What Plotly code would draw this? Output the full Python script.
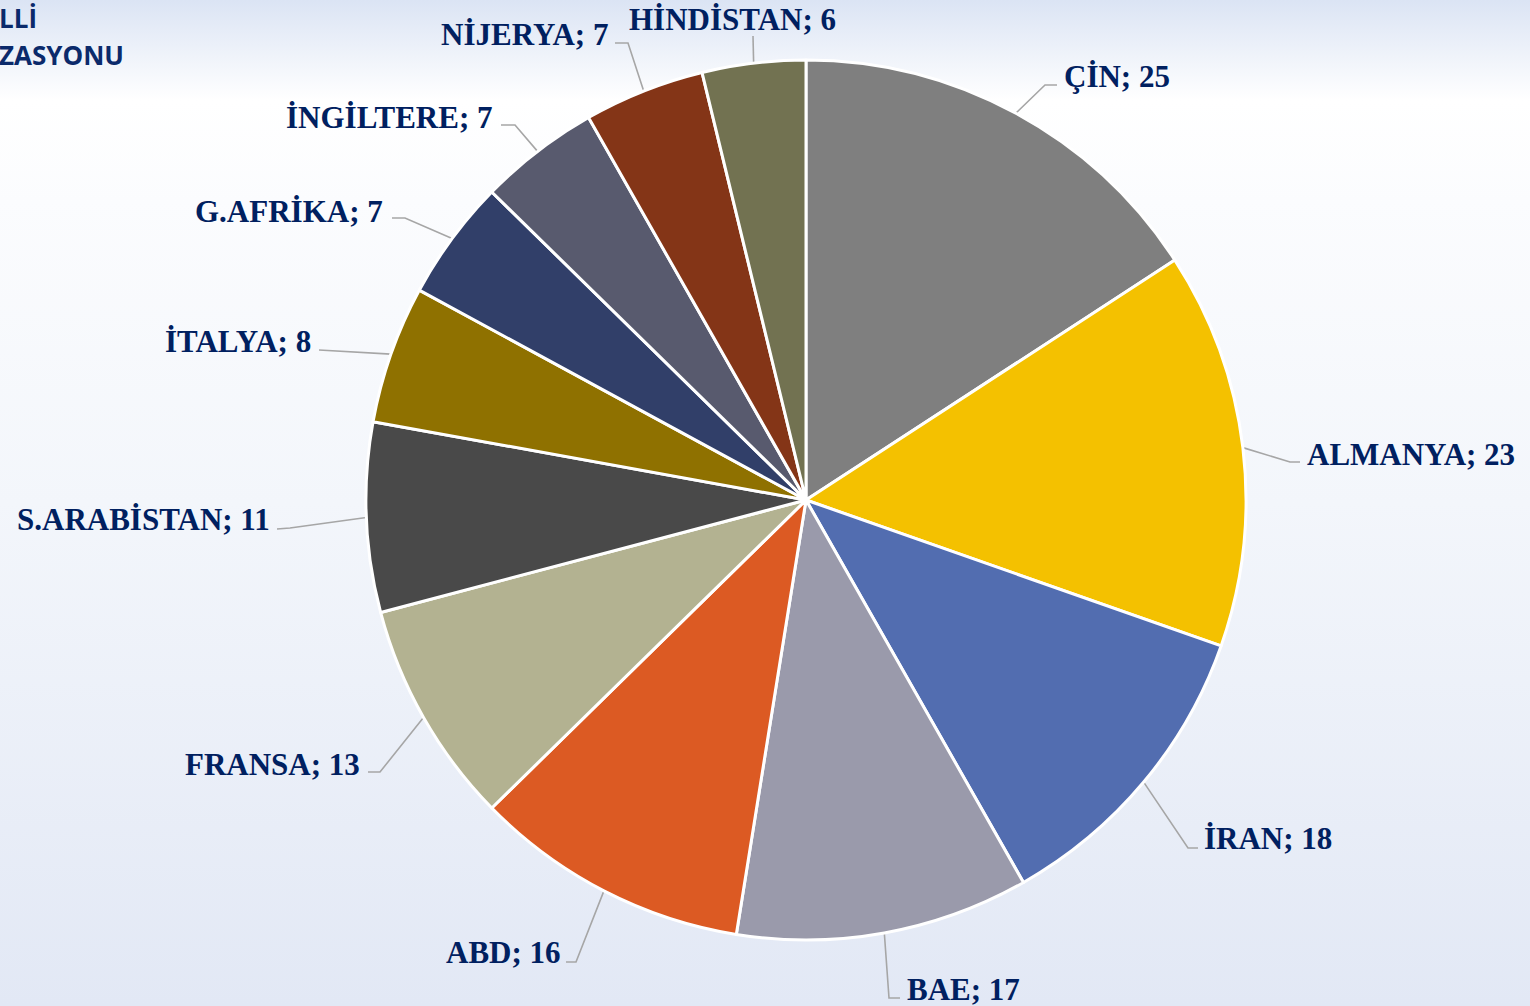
import math
import plotly.graph_objects as go

# ---- data ----
countries = ["ÇİN", "ALMANYA", "İRAN", "BAE", "ABD", "FRANSA", "S.ARABİSTAN",
             "İTALYA", "G.AFRİKA", "İNGİLTERE", "NİJERYA", "HİNDİSTAN"]
values = [25, 23, 18, 17, 16, 13, 11, 8, 7, 7, 7, 6]
colors = ["#7f7f7f", "#f4c100", "#526db0", "#9a9aab", "#dc5a23", "#b3b291",
          "#494949", "#8f7100", "#313f69", "#585a6e", "#843517", "#727251"]

# ---- layout (pixel positions) ----
W, H = 1530, 1006
CX, CY, R = 806, 500, 440
# label anchor (x, y, xanchor) and elbow of leader line
label_pos = [
    (1062, 76, "left"), (1305, 454, "left"), (1202, 838, "left"), (905, 989, "left"),
    (563, 952, "right"), (362, 764, "right"), (272, 519, "right"), (313, 341, "right"),
    (385, 211, "right"), (494, 117, "right"), (610, 34, "right"), (627, 19, "left"),
]
elbows = [
    ((1045, 85), (1057, 85)), ((1290, 462), (1300, 462)), ((1188, 848), (1198, 848)),
    ((889, 998), (900, 998)), ((576, 962), (566, 962)), ((380, 772), (368, 772)),
    ((290, 528), (277, 529)), ((330, 350), (319, 350)), ((405, 218), (392, 218)),
    ((515, 125), (501, 125)), ((628, 43), (615, 43)), ((753, 36), (753, 36)),
]

total = sum(values)
lx, ly = [], []
cum = 0
for v, (e1, e2) in zip(values, elbows):
    mid = (cum + v / 2) / total * 2 * math.pi
    cum += v
    ex = CX + R * math.sin(mid)
    ey = CY - R * math.cos(mid)
    lx += [ex, e1[0], e2[0], None]
    ly += [ey, e1[1], e2[1], None]

fig = go.Figure()

# background gradient
fig.add_trace(go.Scatter(
    x=[0, W, W, 0, 0], y=[0, 0, H, H, 0], mode="lines", fill="toself",
    line=dict(width=0), hoverinfo="skip", showlegend=False,
    fillgradient=dict(type="vertical", start=0, stop=H,
                      colorscale=[[0, "#dbe4f4"], [0.1, "#ffffff"], [0.2, "#fbfcfe"],
                                  [0.5, "#f3f6fb"], [1, "#e2e8f5"]]),
))

# leader lines
fig.add_trace(go.Scatter(x=lx, y=ly, mode="lines", line=dict(color="#a6a6a6", width=1.6),
                         hoverinfo="skip", showlegend=False))

fig.add_trace(go.Pie(
    labels=countries, values=values, sort=False, direction="clockwise", rotation=0,
    marker=dict(colors=colors, line=dict(color="#ffffff", width=3)),
    textinfo="none", showlegend=False,
    domain=dict(x=[(CX - R) / W, (CX + R) / W], y=[(H - CY - R) / H, (H - CY + R) / H]),
))

annotations = []
for name, v, (x, y, xa) in zip(countries, values, label_pos):
    annotations.append(dict(
        x=x, y=y, xref="x", yref="y", xanchor=xa, yanchor="middle", showarrow=False,
        text=f"<b>{name}; {v}</b>",
        font=dict(family="Liberation Serif", size=31, color="#002060"),
    ))
annotations.append(dict(x=-0.002, y=1 - 18 / H, xref="paper", yref="paper", xanchor="left",
                        yanchor="middle", showarrow=False, text="<b>LLİ</b>",
                        font=dict(family="Open Sans", size=26, color="#0b2a6b")))
annotations.append(dict(x=-0.002, y=1 - 55 / H, xref="paper", yref="paper", xanchor="left",
                        yanchor="middle", showarrow=False, text="<b>ZASYONU</b>",
                        font=dict(family="Open Sans", size=26, color="#0b2a6b")))

fig.update_layout(
    width=W, height=H, margin=dict(l=0, r=0, t=0, b=0),
    paper_bgcolor="#eef2fa", plot_bgcolor="rgba(0,0,0,0)",
    xaxis=dict(range=[0, W], visible=False, fixedrange=True),
    yaxis=dict(range=[H, 0], visible=False, fixedrange=True),
    annotations=annotations,
)

fig.write_html("out.html", config={"displayModeBar": False},
               post_script="document.body.style.margin='0';")
